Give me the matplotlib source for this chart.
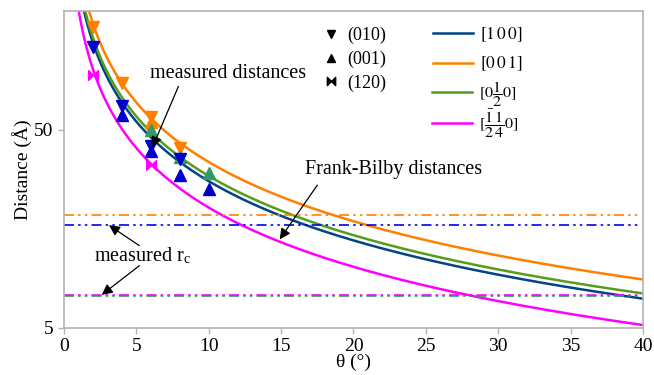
import matplotlib

matplotlib.use("Agg")
import matplotlib.pyplot as plt
import numpy as np
from matplotlib.legend import Legend
from matplotlib.lines import Line2D
from matplotlib.path import Path

plt.rcParams["font.family"] = ["Liberation Serif", "DejaVu Serif"]
plt.rcParams["mathtext.fontset"] = "stix"

# Burgers vector lengths (Å) of the Frank-Bilby curves
directions = [r"$[1\,0\,0]$", r"$[0\,0\,1]$", r"$[0\dfrac{1}{2}0]$",
              r"$[\dfrac{\bar{1}}{2}\dfrac{1}{4}0]$"]
burgers = [4.8, 6.0, 5.1, 3.53]
curve_colors = ["#004586", "#ff8000", "#579d1c", "#ff00ff"]

# measured dislocation spacings per plane and colour
theta_orange_010 = [2, 4, 6, 8]
dist_orange_010 = [166, 86, 58, 40.4]
theta_orange_001 = [6]
dist_orange_001 = [55]
theta_blue_010 = [2, 4, 6, 8]
dist_blue_010 = [131, 66.4, 41.5, 35.5]
theta_blue_001 = [4, 6, 8, 10]
dist_blue_001 = [59.5, 39.3, 29.6, 25.1]
theta_green_001 = [6, 8, 10]
dist_green_001 = [50, 36.5, 30.4]
theta_magenta_120 = [2, 6]
dist_magenta_120 = [95, 33.3]

# measured core radius r_c
rc_values = [18.5, 16.5, 7.23, 7.33]
rc_colors = ["#ff8000", "#0000ee", "#339966", "#ff00ff"]

bowtie = Path([(-1, -1), (-1, 1), (0, 0), (1, 1), (1, -1), (0, 0), (-1, -1)],
              [Path.MOVETO] + [Path.LINETO] * 5 + [Path.CLOSEPOLY])

fig = plt.figure(figsize=(6.54, 3.75), dpi=100)
ax = fig.add_axes([0.098, 0.126, 0.885, 0.845])

theta = np.linspace(0.8, 40, 400)
for b, c in zip(burgers, curve_colors):
    ax.plot(theta, b / (2 * np.sin(np.radians(theta) / 2)), color=c, lw=1.8)

dash = (0, (6, 2.5, 1.5, 2.5, 1.5, 2.5))
for v, c in zip(rc_values, rc_colors):
    ax.hlines(v, 0, 39.7, colors=c, lw=1.2, linestyles=[dash])

ms = 8
ax.plot(theta_orange_010, dist_orange_010, "v", color="#ff8000", ms=ms)
ax.plot(theta_orange_001, dist_orange_001, "^", color="#ff8000", ms=ms)
ax.plot(theta_green_001, dist_green_001, "^", color="#339966", ms=ms)
ax.plot(theta_blue_010, dist_blue_010, "v", color="#0000cc", ms=ms)
ax.plot(theta_blue_001, dist_blue_001, "^", color="#0000cc", ms=ms)
ax.plot(theta_magenta_120, dist_magenta_120, ls="none", marker=bowtie,
        color="#ff00ff", ms=ms - 1)

ax.set_yscale("log")
ax.set_xlim(0, 40)
ax.set_ylim(5, 200)
ax.set_xticks(range(0, 41, 5))
ax.set_yticks([5, 50])
ax.set_yticklabels(["5", "50"])
ax.yaxis.set_minor_locator(matplotlib.ticker.NullLocator())
ax.tick_params(labelsize=14, color="#b3b3b3", length=4, width=1)
for s in ax.spines.values():
    s.set_color("#b3b3b3")
    s.set_linewidth(1.2)
ax.set_xlabel("θ (°)", fontsize=14, labelpad=-1)
ax.set_ylabel("Distance (Å)", fontsize=14, labelpad=2)

arrow = dict(arrowstyle="-|>", color="black", lw=0.9, mutation_scale=16,
             shrinkA=0, shrinkB=0)
ax.text(11.3, 97, "measured distances", fontsize=14.5, ha="center", va="center")
ax.annotate("", xy=(6.1, 40.8), xytext=(7.9, 83), arrowprops=arrow)
ax.text(22.8, 31.4, "Frank-Bilby distances", fontsize=14.5, ha="center",
        va="center")
ax.annotate("", xy=(14.9, 14.0), xytext=(17.5, 26.3), arrowprops=arrow)
ax.annotate("", xy=(3.1, 16.5), xytext=(5.2, 13.0), arrowprops=arrow)
ax.annotate("", xy=(2.6, 7.33), xytext=(5.2, 10.3), arrowprops=arrow)
ax.text(5.4, 11.5, r"measured r$_\mathregular{c}$", fontsize=14.5,
        ha="center", va="center")

plane_handles = [
    Line2D([], [], ls="none", marker="v", color="black", ms=6),
    Line2D([], [], ls="none", marker="^", color="black", ms=6),
    Line2D([], [], ls="none", marker=bowtie, color="black", ms=6),
]
ax.add_artist(Legend(ax, plane_handles, ["(010)", "(001)", "(120)"],
                     loc="upper left", bbox_to_anchor=(0.42, 1.0),
                     frameon=False, fontsize=13, handlelength=0.8,
                     handletextpad=0.5, labelspacing=0.35))

# one small legend per direction so the rows keep an even spacing
row_y = [0.924, 0.832, 0.738, 0.645]
row_size = [12.5, 12.5, 11.5, 11.5]
for label, c, y, fs in zip(directions, curve_colors, row_y, row_size):
    ax.add_artist(Legend(ax, [Line2D([], [], color=c, lw=1.8)], [label],
                         loc="center left", bbox_to_anchor=(0.611, y),
                         frameon=False, fontsize=fs,
                         handlelength=2.3 * 12.5 / fs,
                         handletextpad=0.4 * 12.5 / fs))

fig.savefig("out.png", dpi=100)
plt.close(fig)
